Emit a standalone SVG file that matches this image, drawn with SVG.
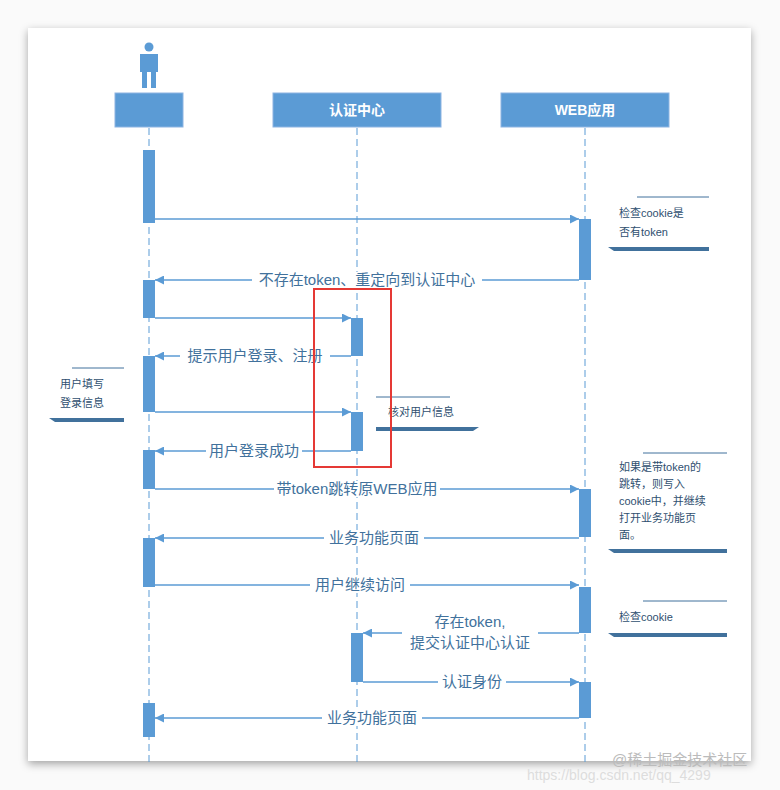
<svg xmlns="http://www.w3.org/2000/svg" width="780" height="790" viewBox="0 0 780 790">
<defs>
<filter id="sh" x="-5%" y="-5%" width="110%" height="110%"><feDropShadow dx="0" dy="3" stdDeviation="4" flood-color="#000" flood-opacity="0.35"/></filter>
<marker id="ar" viewBox="0 0 10 10" refX="10" refY="5" markerWidth="9" markerHeight="9" orient="auto-start-reverse" markerUnits="userSpaceOnUse"><path d="M0,0 L10,5 L0,10 z" fill="#5b9bd5"/></marker>
<style>
.hd{fill:#5b9bd5;stroke:#8db4e2;stroke-width:1}
.ht{font-family:"Liberation Sans","Noto Sans CJK SC",sans-serif;font-size:14px;font-weight:bold;fill:#fff;text-anchor:middle}
.ll{stroke:#5b9bd5;stroke-width:1;stroke-dasharray:7,4}
.act{fill:#5b9bd5}
.msg{stroke:#5b9bd5;stroke-width:1.3;fill:none;marker-end:url(#ar)}
.lb{font-family:"Liberation Sans","Noto Sans CJK SC",sans-serif;font-size:15px;fill:#41719c;text-anchor:middle}
.bg{fill:#fff}
.nt{font-family:"Liberation Sans","Noto Sans CJK SC",sans-serif;font-size:11px;fill:#2f4f6f}
.ntop{stroke:#41719c;stroke-width:1}
.nbot{fill:#41719c}
</style>
</defs>
<rect width="780" height="790" fill="#fafafa"/>
<rect x="28" y="28" width="723" height="733" fill="#fff" filter="url(#sh)"/>
<g id="actor">
<circle cx="149" cy="47" r="4.5" fill="#5b9bd5"/>
<path d="M140,54 H158 V72 H156 V88 H151 V72 H147 V88 H142 V72 H140 Z" fill="#5b9bd5"/>
<rect class="hd" x="115" y="93" width="68" height="34"/>
</g>
<g id="auth"><rect class="hd" x="273" y="93" width="168" height="34"/><text class="ht" x="357" y="115">认证中心</text></g>
<g id="web"><rect class="hd" x="501" y="93" width="168" height="34"/><text class="ht" x="585" y="115">WEB应用</text></g>
<g id="lifelines">
<line class="ll" x1="149" y1="128" x2="149" y2="762"/>
<line class="ll" x1="357" y1="128" x2="357" y2="762"/>
<line class="ll" x1="585" y1="128" x2="585" y2="762"/>
</g>
<g id="activations">
<rect class="act" x="143" y="150" width="12" height="73"/>
<rect class="act" x="143" y="280" width="12" height="38"/>
<rect class="act" x="143" y="356" width="12" height="56"/>
<rect class="act" x="143" y="450" width="12" height="39"/>
<rect class="act" x="143" y="538" width="12" height="49"/>
<rect class="act" x="143" y="703" width="12" height="34"/>
<rect class="act" x="351" y="318" width="12" height="38"/>
<rect class="act" x="351" y="412" width="12" height="39"/>
<rect class="act" x="351" y="633" width="12" height="49"/>
<rect class="act" x="579" y="219" width="12" height="61"/>
<rect class="act" x="579" y="489" width="12" height="48"/>
<rect class="act" x="579" y="587" width="12" height="46"/>
<rect class="act" x="579" y="682" width="12" height="36"/>
</g>
<g id="connectors">
<line class="msg" x1="155" y1="219" x2="579" y2="219"/>
<line class="msg" x1="579" y1="280" x2="155" y2="280"/>
<line class="msg" x1="155" y1="318" x2="351" y2="318"/>
<line class="msg" x1="351" y1="356" x2="155" y2="356"/>
<line class="msg" x1="155" y1="412" x2="351" y2="412"/>
<line class="msg" x1="351" y1="451" x2="155" y2="451"/>
<line class="msg" x1="155" y1="489" x2="579" y2="489"/>
<line class="msg" x1="579" y1="538" x2="155" y2="538"/>
<line class="msg" x1="155" y1="585" x2="579" y2="585"/>
<line class="msg" x1="579" y1="633" x2="363" y2="633"/>
<line class="msg" x1="363" y1="682" x2="579" y2="682"/>
<line class="msg" x1="579" y1="718" x2="155" y2="718"/>
<rect class="bg" x="252" y="272" width="230" height="16"/><text class="lb" x="367" y="285">不存在token、重定向到认证中心</text>
<rect class="bg" x="180" y="348" width="150" height="16"/><text class="lb" x="255" y="361">提示用户登录、注册</text>
<rect class="bg" x="206" y="443" width="96" height="16"/><text class="lb" x="254" y="456">用户登录成功</text>
<rect class="bg" x="274" y="481" width="166" height="16"/><text class="lb" x="357" y="494">带token跳转原WEB应用</text>
<rect class="bg" x="324" y="530" width="100" height="16"/><text class="lb" x="374" y="543">业务功能页面</text>
<rect class="bg" x="310" y="577" width="100" height="16"/><text class="lb" x="360" y="590">用户继续访问</text>
<rect class="bg" x="402" y="615" width="136" height="40"/><text class="lb" x="470" y="627">存在token,</text><text class="lb" x="470" y="648">提交认证中心认证</text>
<rect class="bg" x="438" y="674" width="68" height="16"/><text class="lb" x="472" y="687">认证身份</text>
<rect class="bg" x="322" y="710" width="100" height="16"/><text class="lb" x="372" y="723">业务功能页面</text>
</g>
<g id="note1"><line class="ntop" x1="637" y1="197" x2="709" y2="197"/><text class="nt" x="619" y="217">检查cookie是</text><text class="nt" x="619" y="236">否有token</text><path class="nbot" d="M608,247 H709 V251 H614 Z"/></g>
<g id="note2"><line class="ntop" x1="72" y1="368" x2="124" y2="368"/><text class="nt" x="60" y="388">用户填写</text><text class="nt" x="60" y="407">登录信息</text><path class="nbot" d="M49,418 H124 V422 H55 Z"/></g>
<g id="note3"><line class="ntop" x1="376" y1="397" x2="450" y2="397"/><text class="nt" x="388" y="416">核对用户信息</text><path class="nbot" d="M376,427 H479 L473,431 H376 Z"/></g>
<g id="note4"><line class="ntop" x1="643" y1="453" x2="727" y2="453"/><text class="nt" x="619" y="471">如果是带token的</text><text class="nt" x="619" y="488">跳转，则写入</text><text class="nt" x="619" y="505">cookie中，并继续</text><text class="nt" x="619" y="522">打开业务功能页</text><text class="nt" x="619" y="539">面。</text><path class="nbot" d="M608,549 H727 V553 H614 Z"/></g>
<g id="note5"><line class="ntop" x1="643" y1="601" x2="727" y2="601"/><text class="nt" x="619" y="621">检查cookie</text><path class="nbot" d="M608,633 H727 V637 H614 Z"/></g>
<rect x="314" y="289" width="77" height="178" fill="none" stroke="#e53935" stroke-width="2"/>
<text x="612" y="765" font-family="Liberation Sans,Noto Sans CJK SC,sans-serif" font-size="15" fill="#bbb">@稀土掘金技术社区</text>
<text x="527" y="780" font-family="Liberation Sans,sans-serif" font-size="14" fill="#ddd">https://blog.csdn.net/qq_4299</text>
</svg>
